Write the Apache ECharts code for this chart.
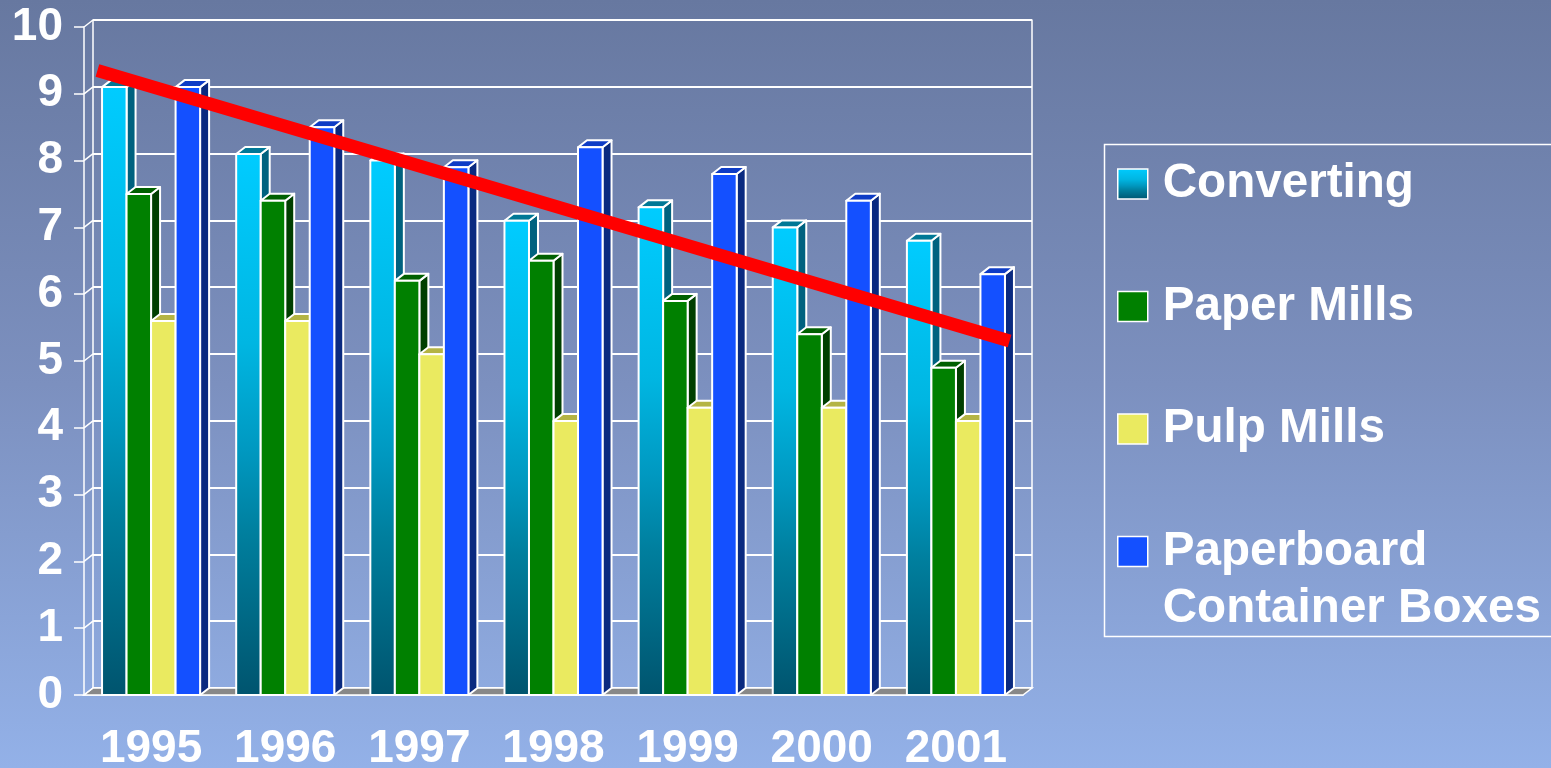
<!DOCTYPE html>
<html>
<head>
<meta charset="utf-8">
<script src="https://cdn.jsdelivr.net/npm/echarts@6/dist/echarts.min.js"></script>
<style>
  html, body { margin: 0; padding: 0; }
  #chart {
    width: 1551px;
    height: 768px;
    background: linear-gradient(to bottom, #6778a0 0%, #7c90bf 50%, #93b1e8 100%);
  }
</style>
</head>
<body>
<div id="chart"></div>
<script>
// data
const years = ['1995', '1996', '1997', '1998', '1999', '2000', '2001'];
const converting = [9.1, 8.1, 8.0, 7.1, 7.3, 7.0, 6.8];
const paperMills = [7.5, 7.4, 6.2, 6.5, 5.9, 5.4, 4.9];
const pulpMills = [5.6, 5.6, 5.1, 4.1, 4.3, 4.3, 4.1];
const paperboard = [9.1, 8.5, 7.9, 8.2, 7.8, 7.4, 6.3];
const yTicks = [0, 1, 2, 3, 4, 5, 6, 7, 8, 9, 10];
// trend line end points, x in category widths from the left edge
const trendPoints = [[0.1, 9.35], [6.9, 5.3]];

const FONT = '"Liberation Sans", Arial, sans-serif';
const DX = 9, DY = -7;         // depth of the 3d look
const GROUP_W = 0.731;         // part of a category band used by the bars
const BAR_W = GROUP_W / 4;

const convGrad = new echarts.graphic.LinearGradient(0, 0, 0, 1, [
  { offset: 0, color: '#00ccff' },
  { offset: 0.35, color: '#00b6e2' },
  { offset: 0.55, color: '#0098c0' },
  { offset: 0.7, color: '#007f9e' },
  { offset: 1, color: '#00546e' }
]);

const styles = [
  { front: convGrad, side: '#00627f', top: '#007896' },
  { front: '#008000', side: '#003f00', top: '#006000' },
  { front: '#eaea60', side: '#9c9c3a', top: '#b4b444' },
  { front: '#1450ff', side: '#0a2a80', top: '#0e3cc6' }
];

const names = ['Converting', 'Paper Mills', 'Pulp Mills', 'Paperboard\nContainer Boxes'];
const values = [converting, paperMills, pulpMills, paperboard];

const edge = { stroke: '#fff', lineWidth: 2, lineJoin: 'round' };

function barRenderer(s) {
  return function (params, api) {
    const idx = api.value(0);
    const c = api.coord([idx, api.value(1)]);
    const base = api.coord([idx, 0]);
    const bw = api.size([1, 0])[0];
    const w = bw * BAR_W;
    const x0 = c[0] - bw * GROUP_W / 2 + s * w;
    const x1 = x0 + w;
    const yt = c[1], yb = base[1];
    const st = styles[s];
    return {
      type: 'group',
      children: [
        { type: 'polygon', shape: { points: [[x1, yt], [x1 + DX, yt + DY], [x1 + DX, yb + DY], [x1, yb]] },
          style: Object.assign({ fill: st.side }, edge) },
        { type: 'polygon', shape: { points: [[x0, yt], [x0 + DX, yt + DY], [x1 + DX, yt + DY], [x1, yt]] },
          style: Object.assign({ fill: st.top }, edge) },
        { type: 'rect', shape: { x: x0, y: yt, width: w, height: yb - yt },
          style: Object.assign({ fill: st.front }, edge) }
      ]
    };
  };
}

// side wall lines and floor
function frameRenderer(params, api) {
  const v = api.value(1);
  const p = api.coord([0, v]);
  const bw = api.size([1, 0])[0];
  const xl = p[0] - bw / 2;
  const children = [
    { type: 'line', shape: { x1: xl, y1: p[1], x2: xl + DX, y2: p[1] + DY }, style: { stroke: '#fff', lineWidth: 1.5 } }
  ];
  if (v === 0) {
    const xr = xl + bw * years.length;
    children.unshift({
      type: 'polygon',
      shape: { points: [[xl, p[1]], [xr, p[1]], [xr + DX, p[1] + DY], [xl + DX, p[1] + DY]] },
      style: { fill: '#888888', stroke: '#fff', lineWidth: 1.5 }
    });
  }
  return { type: 'group', children: children };
}

const series = [{
  type: 'custom',
  name: 'frame',
  xAxisIndex: 0,
  yAxisIndex: 0,
  z: 1,
  silent: true,
  renderItem: frameRenderer,
  encode: { x: 0, y: 1 },
  data: yTicks.map(v => [0, v])
}];

values.forEach((arr, s) => {
  series.push({
    type: 'custom',
    name: names[s],
    xAxisIndex: 0,
    yAxisIndex: 0,
    z: 2,
    itemStyle: { color: s === 0 ? '#00ccff' : styles[s].front },
    renderItem: barRenderer(s),
    encode: { x: 0, y: 1 },
    data: arr.map((v, i) => [i, v])
  });
});

series.push({
  type: 'line',
  name: 'trend',
  xAxisIndex: 1,
  yAxisIndex: 0,
  z: 10,
  symbol: 'none',
  silent: true,
  lineStyle: { color: '#ff0000', width: 13, cap: 'butt' },
  data: trendPoints
});

const labelStyle = { color: '#fff', fontSize: 46, fontWeight: 'bold', fontFamily: FONT };

function legendPart(list, top, formatter) {
  return {
    orient: 'vertical',
    left: 1117,
    top: top,
    padding: 0,
    itemWidth: 30,
    itemHeight: 30,
    itemGap: 65.5,
    selectedMode: false,
    icon: 'rect',
    formatter: formatter,
    textStyle: { color: '#fff', fontSize: 47.6, fontWeight: 'bold', fontFamily: FONT, lineHeight: 57, padding: [0, 0, 0, 10] },
    data: list.map(s => ({
      name: names[s],
      itemStyle: { color: styles[s].front, borderColor: '#fff', borderWidth: 1.5 }
    }))
  };
}

const chart = echarts.init(document.getElementById('chart'));
chart.setOption({
  animation: false,
  backgroundColor: 'transparent',
  grid: [
    { left: 84, right: 528, top: 27, bottom: 73, outerBoundsMode: 'none' },   // front plane
    { left: 93, right: 519, top: 20, bottom: 80, outerBoundsMode: 'none' }    // back wall
  ],
  xAxis: [
    {
      type: 'category',
      gridIndex: 0,
      data: years,
      axisLine: { lineStyle: { color: '#fff', width: 1.5 } },
      axisTick: { length: 11, lineStyle: { color: '#fff', width: 1.5 } },
      axisLabel: Object.assign({ margin: 31 }, labelStyle),
      splitLine: { show: false }
    },
    { type: 'value', gridIndex: 0, min: 0, max: 7, show: false },
    { type: 'category', gridIndex: 1, data: years, show: false }
  ],
  yAxis: [
    {
      type: 'value',
      gridIndex: 0,
      min: 0, max: 10, interval: 1,
      axisLine: { show: true, lineStyle: { color: '#fff', width: 1.5 } },
      axisTick: { show: true, length: 10, lineStyle: { color: '#fff', width: 1.5 } },
      axisLabel: Object.assign({ margin: 21 }, labelStyle),
      splitLine: { show: false }
    },
    {
      type: 'value',
      gridIndex: 1,
      min: 0, max: 10, interval: 1,
      axisLine: { show: true, lineStyle: { color: '#fff', width: 1.5 } },
      axisTick: { show: false },
      axisLabel: { show: false },
      splitLine: { show: true, lineStyle: { color: '#fff', width: 2 } }
    },
    {
      type: 'value',
      gridIndex: 1,
      position: 'right',
      min: 0, max: 10, interval: 1,
      axisLine: { show: true, lineStyle: { color: '#fff', width: 1.5 } },
      axisTick: { show: false },
      axisLabel: { show: false },
      splitLine: { show: false }
    }
  ],
  legend: [
    legendPart([0, 1, 2], 155.5),
    // a blank first line keeps the swatch level with "Paperboard"
    legendPart([3], 466, name => '\n' + name)
  ],
  graphic: [{
    type: 'rect',
    left: 1102,
    top: 142,
    shape: { width: 448, height: 492 },
    style: { fill: 'none', stroke: '#fff', lineWidth: 1.5 }
  }],
  series: series
});
</script>
</body>
</html>
